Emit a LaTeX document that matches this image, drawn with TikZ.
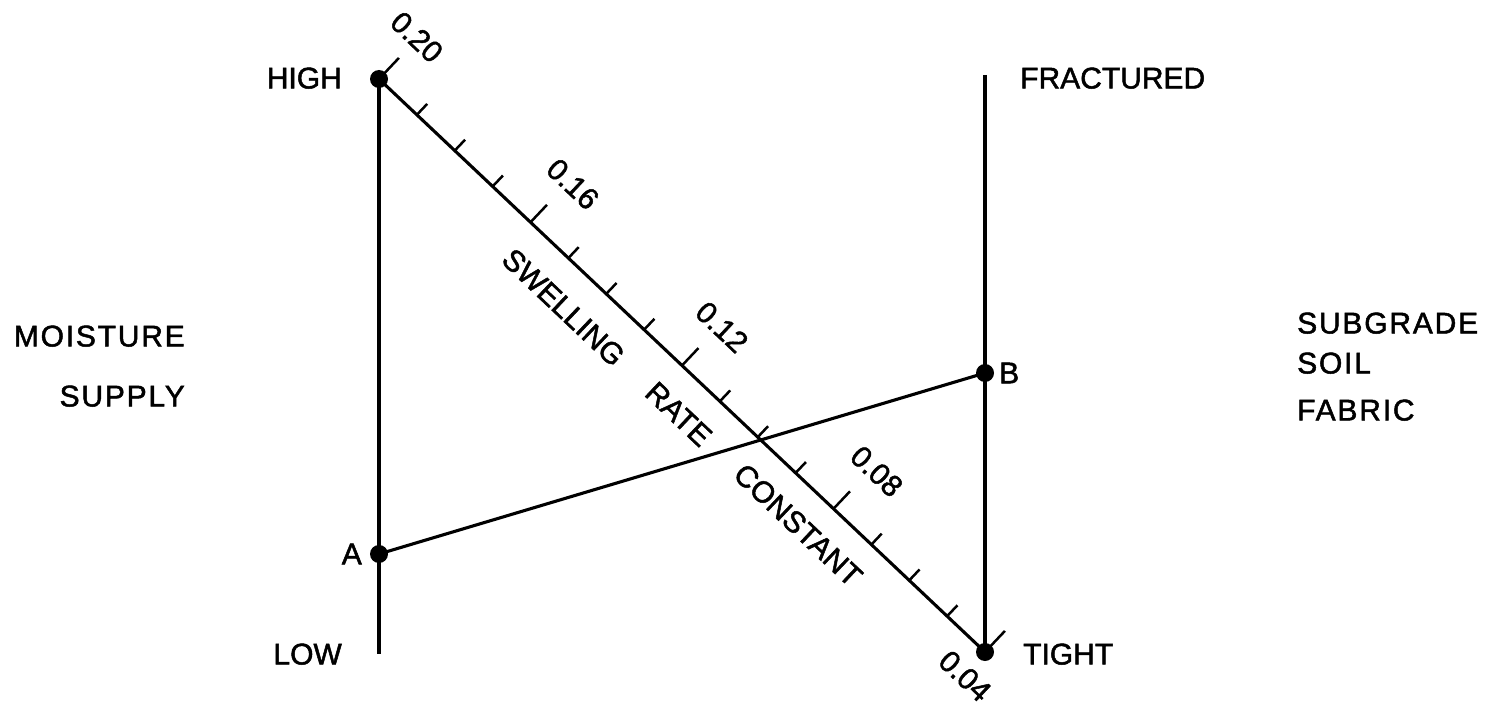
\documentclass[tikz,border=0pt]{standalone}
\usepackage{fontspec}
\setmainfont{Liberation Sans}[FakeBold=1.6]
\newfontfamily\widesans{Liberation Sans}[FakeBold=1.6,LetterSpace=6]
\usetikzlibrary{calc}
\begin{document}
\begin{tikzpicture}[x=1pt,y=-1pt,
  axis/.style={line width=3.1pt},
  tickmark/.style={line width=2.5pt},
  dot/.style={circle,fill=black,inner sep=0pt,minimum size=18pt},
  lbl/.style={inner sep=0pt,text depth=0pt,font=\fontsize{30}{36}\selectfont},
  scalelbl/.style={lbl,rotate=-43.39},
]
\useasboundingbox (0,0) rectangle (1500,706);

% end points of the three scales and the turning line
\coordinate (H) at (379,79);
\coordinate (T) at (985,652);
\coordinate (Lbot) at (379,654);
\coordinate (Rtop) at (985,75);
\coordinate (A) at (379,554);
\coordinate (B) at (985,373);

% moisture supply scale, soil fabric scale, swelling rate scale
\draw[axis] (H) -- (Lbot);
\draw[axis] (Rtop) -- (T);
\draw[axis] (H) -- (T);
% line joining A and B
\draw[axis] (A) -- (B);

% graduations every 0.01, longer at the numbered ones
\foreach \k in {1,...,15} {
  \pgfmathsetmacro\len{ifthenelse(mod(\k,4)==0,24,15)}
  \draw[tickmark] ($(H)!{\k/16}!(T)$) -- ++(46.61:\len pt);
}
\draw[tickmark] (H) -- ++(46.61:29pt);
\draw[tickmark] (T) -- ++(46.61:29pt);

% scale values
\node[scalelbl] (v20) at ($(H) + (46.61:56.6pt) + (-43.39:-1.3pt)$) {0.20};
\node[scalelbl] (v16) at ($(H)!{4/16}!(T) + (46.61:57pt) + (-43.39:4.6pt)$) {0.16};
\node[scalelbl] (v12) at ($(H)!{8/16}!(T) + (46.61:55.5pt) + (-43.39:2.6pt)$) {0.12};
\node[scalelbl] (v08) at ($(H)!{12/16}!(T) + (46.61:57pt) + (-43.39:5.7pt)$) {0.08};
\node[scalelbl] (v04) at ($(T) + (226.61:31pt) + (-43.39:2pt)$) {0.04};

% scale title along the diagonal
\node[scalelbl] (sw) at ($(H)!291pt!(T) + (226.61:39pt)$) {SWELLING};
\node[scalelbl] (rt) at ($(H)!448pt!(T) + (226.61:37.6pt)$) {RATE};
\node[scalelbl] (ct) at ($(H)!611pt!(T) + (226.61:36pt)$) {CONSTANT};

% points on the scales
\node[dot] (dH) at (H) {};
\node[dot] (dT) at (T) {};
\node[dot] (dA) at (A) {};
\node[dot] (dB) at (B) {};

% scale end labels
\node[lbl,anchor=east] (high) at (342,78) {HIGH};
\node[lbl,anchor=east] (low) at (342,654) {LOW};
\node[lbl,anchor=east] (la) at (362,554) {A};
\node[lbl,anchor=west] (lb) at (999,373) {B};
\node[lbl,anchor=west] (frac) at (1020,78) {FRACTURED};
\node[lbl,anchor=west] (tight) at (1023,654) {TIGHT};

% scale names
\node[lbl,anchor=east] (moist) at (185,336) {\widesans MOISTURE};
\node[lbl,anchor=east] (supply) at (185,396) {\widesans SUPPLY};
\node[lbl,anchor=west] (subg) at (1297,323) {\widesans SUBGRADE};
\node[lbl,anchor=west] (soil) at (1297,363) {\widesans SOIL};
\node[lbl,anchor=west] (fabric) at (1297,410) {\widesans FABRIC};
\end{tikzpicture}
\end{document}
